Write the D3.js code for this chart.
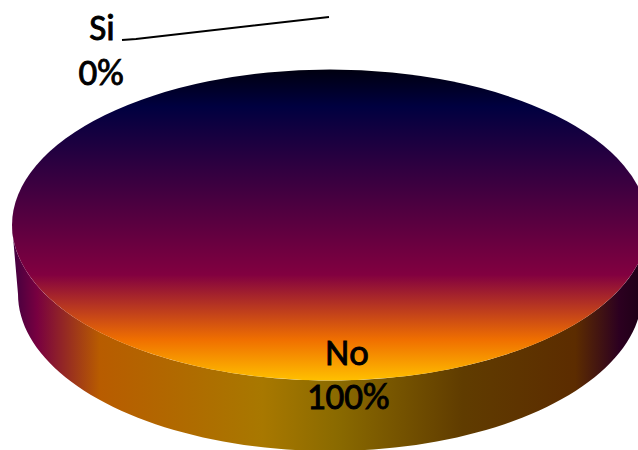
<!DOCTYPE html>
<html><head><meta charset="utf-8"><script src="https://cdn.jsdelivr.net/npm/d3@7"></script>
<style>html,body{margin:0;background:#fff}svg{display:block}text{font-family:Carlito,"Liberation Sans","Open Sans",sans-serif}</style></head><body>
<script>
const categories = ["No", "Si"];
const values = [100, 0];
const percentLabels = ["100%", "0%"];
const W = 638, H = 450;
const topE = {cx: 330, cy: 225, rx: 318, ry: 155.5};
const botE = {cx: 330, cy: 294, rx: 312, ry: 157};
const svg = d3.select("body").append("svg").attr("width", W).attr("height", H);
const defs = svg.append("defs");
function grad(id, attrs, stops) {
  const g = defs.append("linearGradient").attr("id", id);
  Object.entries(attrs).forEach(([k, v]) => g.attr(k, v));
  stops.forEach(([o, c]) => g.append("stop").attr("offset", o).attr("stop-color", c));
}
grad("topG", {x1: 0, x2: 0, y1: 0, y2: 1}, [
  [0, "#000010"], [0.12, "#000040"], [0.66, "#820040"], [0.87, "#f07000"], [1, "#ffc000"]]);
grad("sideG", {gradientUnits: "userSpaceOnUse", x1: 12, x2: 638, y1: 0, y2: 0}, [
  [0, "#400040"], [0.04, "#780040"], [0.14, "#b85c00"], [0.4, "#a87800"], [0.52, "#8a6a00"],
  [0.72, "#603c00"], [0.9, "#5c2c00"], [0.97, "#2c0020"], [1, "#200018"]]);
const pie = d3.pie().value(d => d).sort(null);
const arcs = pie(values);
const rimAngles = d3.range(90, 271, 2).map(a => a * Math.PI / 180);
const pt = (e, a) => [e.cx + e.rx * Math.sin(a), e.cy - e.ry * Math.cos(a)];
const side = [...rimAngles.map(a => pt(topE, a)), ...rimAngles.slice().reverse().map(a => pt(botE, a))];
svg.append("path").attr("d", d3.line().curve(d3.curveLinearClosed)(side)).attr("fill", "url(#sideG)");
const arc = d3.arc().innerRadius(0).outerRadius(1);
svg.append("g").attr("transform", `translate(${topE.cx},${topE.cy}) scale(${topE.rx},${topE.ry})`)
  .selectAll("path").data(arcs.filter(d => d.data > 0)).join("path").attr("d", arc)
  .attr("fill", "url(#topG)");
svg.append("path").attr("d", d3.line()([[122, 40], [136, 39], [329, 17]]))
  .attr("fill", "none").attr("stroke", "#000").attr("stroke-width", 2);
const labelPos = [[347, 353, 348, 397], [102, 28, 101, 73]];
const fs = 37;
categories.forEach((c, i) => {
  const p = labelPos[i];
  [[c, p[0], p[1]], [percentLabels[i], p[2], p[3]]].forEach(([t, x, y]) =>
    svg.append("text").attr("x", x).attr("y", y).attr("dy", "0.33em").attr("text-anchor", "middle")
      .attr("font-size", fs).attr("stroke", "#000").attr("stroke-width", 0.9).text(t));
});
</script></body></html>
